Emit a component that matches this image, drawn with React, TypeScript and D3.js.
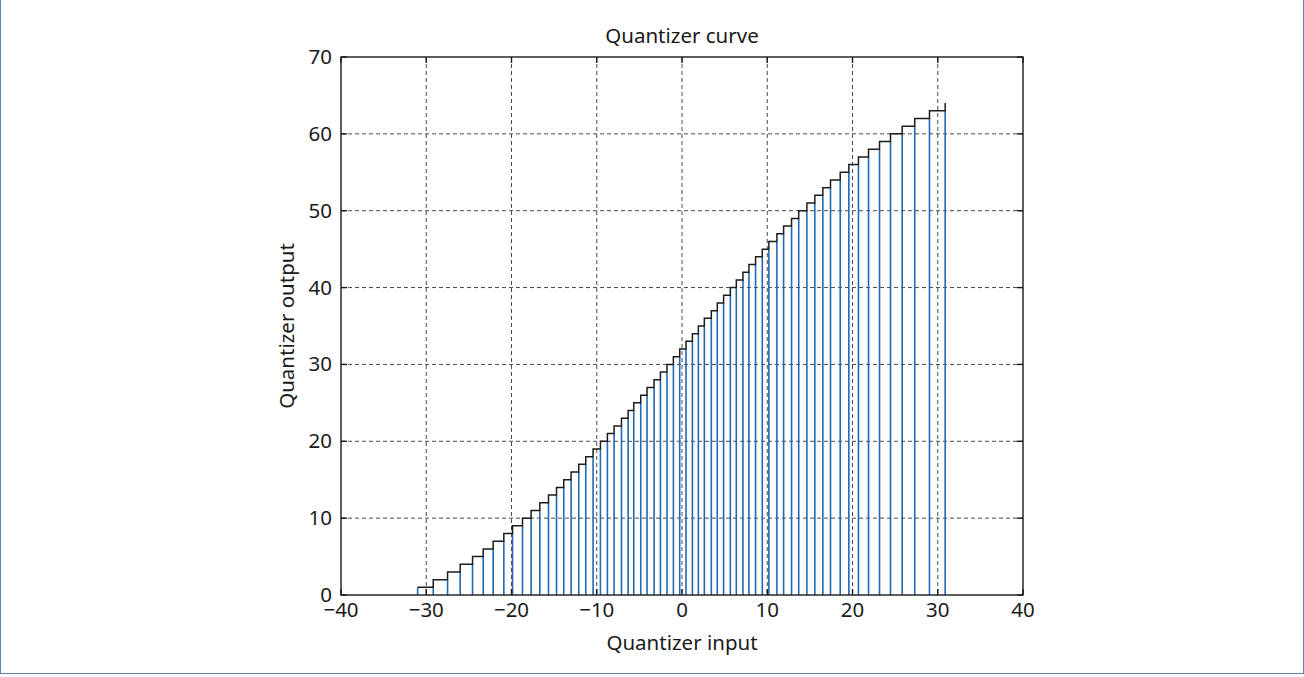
import React from "react";
import * as d3 from "d3";

const W = 1304;
const H = 677;

const title = "Quantizer curve";
const xLabel = "Quantizer input";
const yLabel = "Quantizer output";

const xTicks = [-40, -30, -20, -10, 0, 10, 20, 30, 40];
const yTicks = [0, 10, 20, 30, 40, 50, 60, 70];

// decision thresholds (input values where output steps up)
const thresholds = [
  -31.01, -29.18, -27.5, -26.02, -24.57, -23.32, -22.15, -20.9, -19.88, -18.71,
  -17.7, -16.68, -15.66, -14.72, -13.87, -13.01, -12.11, -11.29, -10.43, -9.57,
  -8.75, -7.97, -7.1, -6.32, -5.66, -4.84, -4.1, -3.28, -2.53, -1.76,
  -1.01, -0.27, 0.47, 1.22, 1.92, 2.62, 3.44, 4.14, 4.88, 5.67,
  6.37, 7.15, 7.85, 8.63, 9.42, 10.19, 11.13, 11.92, 12.85, 13.69,
  14.65, 15.58, 16.52, 17.42, 18.56, 19.57, 20.7, 21.88, 23.17, 24.46,
  25.83, 27.3, 29.03, 30.87,
];

// output level reached at each threshold (stair)
const levels = [
  1, 2, 3, 4, 5, 6, 7, 8, 9, 10, 11, 12, 13, 14, 15, 16, 17, 18, 19, 20,
  21, 22, 23, 24, 25, 26, 27, 28, 29, 30, 31, 32, 33, 34, 35, 36, 37, 38, 39, 40,
  41, 42, 43, 44, 45, 46, 47, 48, 49, 50, 51, 52, 53, 54, 55, 56, 57, 58, 59, 60,
  61, 62, 63, 64,
];

// stem heights at each threshold (blue lines)
const stemHeights = [
  1, 1, 2, 3, 4, 5, 6, 7, 8, 9, 10, 11, 12, 13, 14, 15, 16, 17, 18, 19,
  20, 21, 22, 23, 24, 25, 26, 27, 28, 29, 30, 31, 32, 33, 34, 35, 36, 37, 38, 39,
  40, 41, 42, 43, 44, 45, 46, 47, 48, 49, 50, 51, 52, 53, 54, 55, 56, 57, 58, 59,
  60, 61, 62, 63,
];

const L = 341;
const R = 1023;
const T = 57;
const B = 595;

const FONT = "'Noto Sans', 'Open Sans', sans-serif";
const FS = 20.5;

export default function App() {
  const x = d3.scaleLinear().domain([-40, 40]).range([L, R]);
  const y = d3.scaleLinear().domain([0, 70]).range([B, T]);
  const fmt = d3.format("");

  const stairPts: [number, number][] = thresholds.map((t, i) => [t, levels[i]]);
  const stair = d3
    .line<[number, number]>()
    .x((d) => x(d[0]))
    .y((d) => y(d[1]))
    .curve(d3.curveStepAfter)(stairPts);

  const tickLen = 6;

  return (
    <svg
      width={W}
      height={H}
      style={{ position: "absolute", left: 0, top: 0, display: "block", background: "#fff" }}
    >
      <rect x={0.5} y={-2} width={W - 1} height={H - 1.5} fill="#fff" stroke="#5f83ab" strokeWidth={1} />

      {/* grid */}
      <g stroke="#4a4a4a" strokeWidth={1} strokeDasharray="4,3">
        {xTicks.slice(1, -1).map((t) => (
          <line key={"gx" + t} x1={x(t)} x2={x(t)} y1={T} y2={B} />
        ))}
        {yTicks.slice(1, -1).map((t) => (
          <line key={"gy" + t} x1={L} x2={R} y1={y(t)} y2={y(t)} />
        ))}
      </g>

      {/* stems */}
      <g stroke="#2268b3" strokeWidth={1.6}>
        {thresholds.map((t, i) => (
          <line key={"s" + i} x1={x(t)} x2={x(t)} y1={y(0)} y2={y(stemHeights[i])} />
        ))}
      </g>

      {/* stairs */}
      <path d={stair || ""} fill="none" stroke="#1c1c1c" strokeWidth={1.5} />

      {/* box & ticks */}
      <g stroke="#1a1a1a" strokeWidth={1.4} fill="none">
        <rect x={L} y={T} width={R - L} height={B - T} />
        {xTicks.map((t) => (
          <g key={"tx" + t}>
            <line x1={x(t)} x2={x(t)} y1={B} y2={B - tickLen} />
            <line x1={x(t)} x2={x(t)} y1={T} y2={T + tickLen} />
          </g>
        ))}
        {yTicks.map((t) => (
          <g key={"ty" + t}>
            <line x1={L} x2={L + tickLen} y1={y(t)} y2={y(t)} />
            <line x1={R} x2={R - tickLen} y1={y(t)} y2={y(t)} />
          </g>
        ))}
      </g>

      {/* tick labels */}
      <g fontFamily={FONT} fontSize={FS} fill="#1a1a1a">
        {xTicks.map((t) => (
          <text key={"lx" + t} x={x(t)} y={B + 22} textAnchor="middle">
            {fmt(t)}
          </text>
        ))}
        {yTicks.map((t) => (
          <text key={"ly" + t} x={L - 9} y={y(t) + 7} textAnchor="end">
            {fmt(t)}
          </text>
        ))}
      </g>

      <text x={(L + R) / 2} y={T - 14} textAnchor="middle" fontFamily={FONT} fontSize={FS} fill="#1a1a1a">
        {title}
      </text>
      <text x={(L + R) / 2} y={B + 55} textAnchor="middle" fontFamily={FONT} fontSize={FS} fill="#1a1a1a">
        {xLabel}
      </text>
      <text
        transform={`translate(${L - 47},${(T + B) / 2}) rotate(-90)`}
        textAnchor="middle"
        fontFamily={FONT}
        fontSize={FS}
        fill="#1a1a1a"
      >
        {yLabel}
      </text>
    </svg>
  );
}
